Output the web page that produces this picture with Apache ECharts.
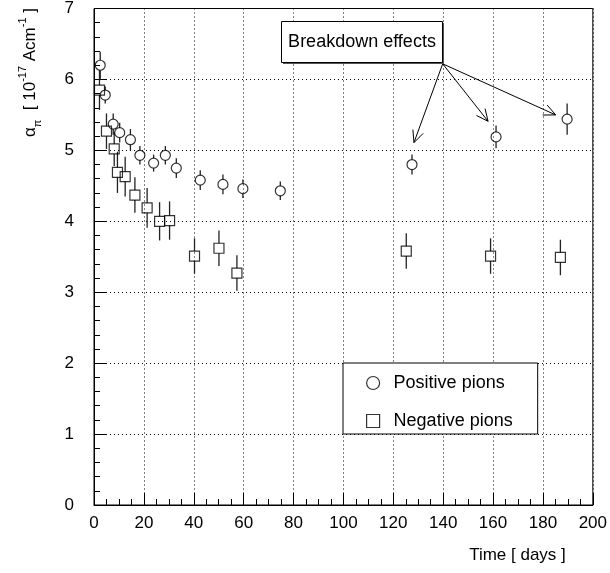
<!DOCTYPE html>
<html>
<head>
<meta charset="utf-8">
<script src="https://cdn.jsdelivr.net/npm/echarts@6/dist/echarts.min.js"></script>
<style>
html,body{margin:0;padding:0;background:#fff;}
#chart{width:610px;height:573px;}
</style>
</head>
<body>
<div id="chart"></div>
<script>
// ---- data ----
var posX   = [2.5, 4.5, 7.7, 10.3, 14.6, 18.4, 23.9, 28.6, 33.0, 42.6, 51.7, 59.7, 74.7, 127.5, 161.2, 189.7];
var posY   = [6.20, 5.78, 5.37, 5.25, 5.15, 4.93, 4.82, 4.93, 4.75, 4.58, 4.52, 4.46, 4.43, 4.80, 5.19, 5.44];
var posErr = [0.19, 0.12, 0.15, 0.14, 0.15, 0.13, 0.12, 0.13, 0.14, 0.14, 0.14, 0.13, 0.13, 0.14, 0.16, 0.22];

var negX   = [2.2, 5.0, 8.1, 9.4, 12.5, 16.4, 21.3, 26.3, 30.3, 40.3, 50.1, 57.3, 125.2, 159.0, 187.0];
var negY   = [5.85, 5.27, 5.02, 4.69, 4.63, 4.37, 4.19, 4.00, 4.01, 3.51, 3.62, 3.27, 3.58, 3.51, 3.49];
var negErr = [0.28, 0.25, 0.24, 0.29, 0.28, 0.25, 0.28, 0.27, 0.27, 0.25, 0.25, 0.25, 0.25, 0.25, 0.25];

var seriesNames = ['Positive pions', 'Negative pions'];
var xTickLabels = ['0','20','40','60','80','100','120','140','160','180','200'];
var yTickLabels = ['0','1','2','3','4','5','6','7'];
var annotationText = 'Breakdown effects';
// arrows: start (box corner) and targets, in data coordinates
var arrowStart = [139.8, 6.22];
var arrowTargets = [[128.3, 5.11], [158.0, 5.41], [185.1, 5.50]];

// ---- build ----
function zip(xs, ys, es) {
  var out = [];
  for (var i = 0; i < xs.length; i++) out.push(es ? [xs[i], ys[i], es[i]] : [xs[i], ys[i]]);
  return out;
}
var MARK_R = 5;
function errRender(params, api) {
  var x = api.value(0), y = api.value(1), e = api.value(2);
  var c = api.coord([x, y]);
  var top = api.coord([x, y + e]);
  var bot = api.coord([x, y - e]);
  var children = [];
  if (c[1] - MARK_R > top[1]) children.push({type:'line', shape:{x1:c[0], y1:top[1], x2:c[0], y2:c[1]-MARK_R}, style:{stroke:'#222', lineWidth:1.3}});
  if (bot[1] > c[1] + MARK_R) children.push({type:'line', shape:{x1:c[0], y1:c[1]+MARK_R, x2:c[0], y2:bot[1]}, style:{stroke:'#222', lineWidth:1.3}});
  return {type:'group', children: children};
}
function arrowRender(params, api) {
  var p0 = api.coord([api.value(0), api.value(1)]);
  var p1 = api.coord([api.value(2), api.value(3)]);
  var ang = Math.atan2(p1[1]-p0[1], p1[0]-p0[0]);
  var L = 13, a = 25 * Math.PI / 180;
  var w1 = [p1[0] - L*Math.cos(ang - a), p1[1] - L*Math.sin(ang - a)];
  var w2 = [p1[0] - L*Math.cos(ang + a), p1[1] - L*Math.sin(ang + a)];
  var st = {stroke:'#000', lineWidth:1, fill:null};
  return {type:'group', children:[
    {type:'line', shape:{x1:p0[0], y1:p0[1], x2:p1[0], y2:p1[1]}, style:st},
    {type:'polyline', shape:{points:[w1, p1, w2]}, style:st}
  ]};
}
var arrowData = arrowTargets.map(function(t){ return [arrowStart[0], arrowStart[1], t[0], t[1]]; });

var FONT = 'Liberation Sans, Arial, Helvetica, sans-serif';
var chart = echarts.init(document.getElementById('chart'));
var hollow = {color:'rgba(0,0,0,0)', borderColor:'#000', borderWidth:1.2};

chart.setOption({
  animation: false,
  backgroundColor: '#fff',
  textStyle: {fontFamily: FONT},
  grid: {left: 94, right: 17, top: 7, bottom: 68, show: true, borderColor: '#000', borderWidth: 1, backgroundColor: 'transparent'},
  xAxis: {
    type: 'value', min: 0, max: 200, interval: 20,
    name: 'Time [ days ]', nameLocation: 'end', nameGap: -27,
    nameTextStyle: {fontSize: 17, color: '#000', align: 'right', verticalAlign: 'top', padding: [42, 0, 0, 0], fontFamily: FONT},
    axisLine: {show: true, onZero: false, lineStyle: {color: '#000', width: 1}},
    axisTick: {show: true, inside: true, length: 12, lineStyle: {color: '#000'}},
    minorTick: {show: true, splitNumber: 4, length: 6, lineStyle: {color: '#000'}},
    axisLabel: {fontSize: 17, color: '#000', margin: 10, fontFamily: FONT,
      formatter: function(v){ var i = Math.round(v/20); return xTickLabels[i] !== undefined ? xTickLabels[i] : ''; }},
    splitLine: {show: true, lineStyle: {color: '#000', type: [1, 3], width: 1}}
  },
  yAxis: {
    type: 'value', min: 0, max: 7, interval: 1,
    axisLine: {show: true, onZero: false, lineStyle: {color: '#000', width: 1}},
    axisTick: {show: true, inside: true, length: 12, lineStyle: {color: '#000'}},
    minorTick: {show: true, splitNumber: 5, length: 6, lineStyle: {color: '#000'}},
    axisLabel: {fontSize: 17, color: '#000', margin: 20, fontFamily: FONT,
      formatter: function(v){ var i = Math.round(v); return yTickLabels[i] !== undefined ? yTickLabels[i] : ''; }},
    splitLine: {show: true, lineStyle: {color: '#000', type: [1, 3], width: 1}}
  },
  legend: {
    left: 343, top: 363, orient: 'vertical',
    backgroundColor: '#fff', borderColor: '#000', borderWidth: 1, borderRadius: 0,
    padding: [10, 25, 3, 23], itemGap: 18, itemWidth: 13, itemHeight: 13,
    textStyle: {fontSize: 18, color: '#000', lineHeight: 20, padding: [0, 0, 0, 9], fontFamily: FONT},
    selectedMode: false,
    data: [
      {name: seriesNames[0], icon: 'circle', itemStyle: hollow},
      {name: seriesNames[1], icon: 'rect', itemStyle: hollow}
    ]
  },
  graphic: [
    {type: 'rect', z: 100, shape: {x: 283, y: 23, width: 161, height: 41}, style: {fill: '#555'}},
    {type: 'rect', z: 101, shape: {x: 281.5, y: 21.5, width: 161, height: 41}, style: {fill: '#fff', stroke: '#000', lineWidth: 1}},
    {type: 'text', z: 102, x: 362, y: 42, style: {text: annotationText, font: '18px ' + FONT, fill: '#000', textAlign: 'center', textVerticalAlign: 'middle'}},
    {type: 'text', z: 102, x: 30, y: 8, rotation: Math.PI / 2,
      style: {
        text: '{m|α}{sub|π}{m|  [ 10}{sup|-17}{m| Acm}{sup|-1}{m| ]}',
        textAlign: 'right', textVerticalAlign: 'middle', fill: '#000',
        rich: {
          m: {fontSize: 17, lineHeight: 26, verticalAlign: 'middle', fontFamily: FONT, fill: '#000'},
          sup: {fontSize: 11, lineHeight: 12, verticalAlign: 'top', fontFamily: FONT, fill: '#000'},
          sub: {fontSize: 11, lineHeight: 12, verticalAlign: 'bottom', fontFamily: FONT, fill: '#000'}
        }
      }}
  ],
  series: [
    {name: 'posErr', type: 'custom', renderItem: errRender, data: zip(posX, posY, posErr), z: 2, silent: true, clip: false, encode: {x: 0, y: 1}},
    {name: 'negErr', type: 'custom', renderItem: errRender, data: zip(negX, negY, negErr), z: 2, silent: true, clip: false, encode: {x: 0, y: 1}},
    {name: seriesNames[0], type: 'scatter', symbol: 'circle', symbolSize: 10, data: zip(posX, posY), itemStyle: hollow, z: 3},
    {name: seriesNames[1], type: 'scatter', symbol: 'rect', symbolSize: 10, data: zip(negX, negY), itemStyle: hollow, z: 3},
    {name: 'arrows', type: 'custom', renderItem: arrowRender, data: arrowData, z: 5, silent: true, clip: false, encode: {x: [0, 2], y: [1, 3]}}
  ]
});
</script>
</body>
</html>
